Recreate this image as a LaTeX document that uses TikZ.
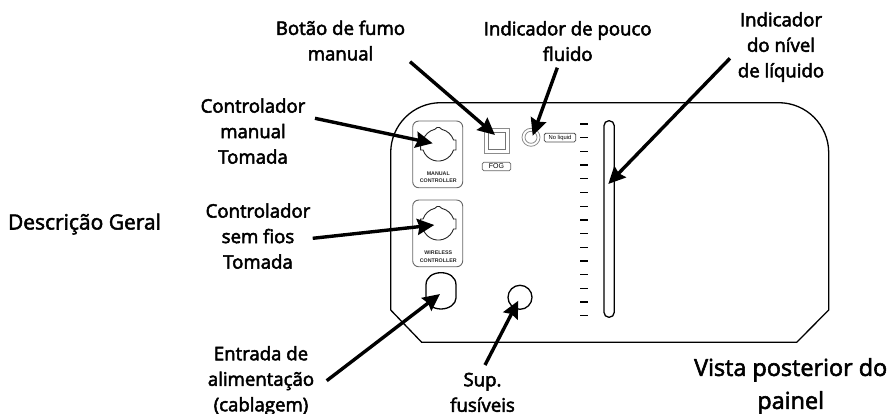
\documentclass[tikz,border=0pt]{standalone}
\usepackage{fontspec}
\setmainfont{Open Sans}
\newfontfamily\lblface[FakeBold=2.8]{Open Sans}
\newfontfamily\bigface[FakeBold=2.4]{Open Sans}
\newfontfamily\tinyface{Liberation Sans}
\usetikzlibrary{arrows.meta}
\tikzset{
  lbl/.style={inner sep=0pt,align=center,text=black,font=\lblface\fontsize{18.6}{25.5}\selectfont},
  biglbl/.style={inner sep=0pt,align=center,text=black,font=\bigface\fontsize{23.4}{33}\selectfont},
  ptr/.style={line width=3.4pt,-{Stealth[length=17pt,width=16pt,inset=2pt]},black},
  outline/.style={draw=black,line width=1.3pt,fill=none},
  greybox/.style={draw=black!60,line width=.9pt,rounded corners=6pt},
  tinytxt/.style={inner sep=0pt,align=center,font=\tinyface\bfseries\fontsize{5.3}{7.4}\selectfont,text=black!85},
  sockline/.style={draw=black!85,line width=.9pt},
  sock/.pic={\path[sockline] (3.6,15.6) arc[start angle=77,end angle=18,radius=16] -- (17.7,5) -- (17.7,-5) -- (15.2,-5) arc[start angle=-18,end angle=-162,radius=16] -- (-17.7,-5) -- (-17.7,5) -- (-15.2,5) arc[start angle=162,end angle=103,radius=16] -- (-1.2,17.5) -- (1.2,17.5) -- cycle;}
}
\begin{document}
\begin{tikzpicture}[x=1pt,y=1pt]
\useasboundingbox (0,0) rectangle (891,-414);
% panel
\draw[line width=1.3pt,black] (390.7,-152.7) arc[start angle=180,end angle=90,radius=50] -- (778.7,-102.7) arc[start angle=90,end angle=0,radius=50] -- (828.7,-310) -- (796.7,-342.3) -- (421.7,-342.3) -- (390.7,-310) -- cycle;
% sockets
\node[greybox,minimum width=50pt,minimum height=66.7pt,inner sep=0pt] (manualbox) at (437.7,-154.4) {};
\node[greybox,minimum width=50pt,minimum height=66.7pt,inner sep=0pt] (wirelessbox) at (437.7,-233.4) {};
\pic at (438.3,-145) {sock};
\pic at (438.3,-224) {sock};
\node[tinytxt] (manualtxt) at (438.3,-177.5) {MANUAL\\CONTROLLER};
\node[tinytxt] (wirelesstxt) at (438.3,-256.5) {WIRELESS\\CONTROLLER};
% power inlet
\draw[outline] (426,-285) .. controls (426,-277) and (433,-272.7) .. (441,-272.7) .. controls (449,-272.7) and (456,-277) .. (456,-285) -- (456,-298) .. controls (456,-304) and (449,-309) .. (441,-309) .. controls (433,-309) and (426,-304) .. (426,-298) -- cycle;
% fuse
\node[draw=black,line width=1.3pt,circle,minimum size=24pt,inner sep=0pt] (fuse) at (520,-297.3) {};
% FOG
\node[draw=black!45,line width=.9pt,minimum size=25pt,inner sep=0pt] (fogouter) at (496.7,-140.8) {};
\node[draw=black!55,line width=.9pt,minimum size=16.5pt,inner sep=0pt] (foginner) at (496.7,-140.8) {};
\node[draw=black!60,line width=.8pt,rounded corners=1.5pt,minimum width=28.4pt,minimum height=8.4pt,inner sep=0pt,font=\tinyface\fontsize{7}{8}\selectfont] (foglabel) at (496.5,-166.5) {FOG};
% LED
\node[draw=black!45,line width=.8pt,circle,minimum size=18pt,inner sep=0pt] (ledouter) at (531,-137.3) {};
\node[draw=black!45,line width=.8pt,circle,minimum size=12pt,inner sep=0pt] (ledinner) at (531,-137.3) {};
\node[draw=black!70,line width=.8pt,rounded corners=1.5pt,minimum width=31.4pt,minimum height=8.7pt,inner sep=0pt,font=\tinyface\fontsize{5.8}{7}\selectfont] (ledlabel) at (560,-137.6) {No liquid};
% ticks
\foreach \i in {0,...,14} \draw[line width=1.3pt,black] (580,{-124-13.7*\i}) -- (588.3,{-124-13.7*\i});
% slot
\node[draw=black,line width=1.3pt,rounded corners=5pt,minimum width=10.3pt,minimum height=196.6pt,inner sep=0pt] (slot) at (609.1,-219) {};
% labels
\node[biglbl,anchor=base] (general) at (84.5,-229.5) {\fontsize{21}{25}\selectfont Descrição Geral};
\node[lbl] (lbotao) at (340.5,-42.5) {\strut Botão de fumo\\\strut manual};
\node[lbl] (lpouco) at (567.7,-43) {\strut Indicador de pouco\\\strut fluido};
\node[lbl] (lnivel) at (781,-46.7) {\strut Indicador\\\strut do nível\\\strut de líquido};
\node[lbl] (lmanual) at (253,-133) {\strut Controlador\\\strut manual\\\strut Tomada};
\node[lbl] (lsemfios) at (258,-238) {\strut Controlador\\\strut sem fios\\\strut Tomada};
\node[lbl,anchor=north] (lentrada) at (261,-342.2) {\strut Entrada de\\\strut alimentação\\(cablagem)};
\node[lbl,anchor=north] (lsup) at (482.5,-368.2) {\strut Sup.\\fusíveis};
\node[biglbl,anchor=north] (lvista) at (790.7,-352.6) {\strut Vista posterior do\\painel};
% connector ends
\coordinate (sbotao) at (410,-61.7);   \coordinate (tbotao) at (495,-135);
\coordinate (spouco) at (557.3,-67.7); \coordinate (tpouco) at (532.7,-135.7);
\coordinate (snivel) at (730,-58.3);   \coordinate (tnivel) at (608.3,-184);
\coordinate (smanual) at (315,-118.3); \coordinate (tmanual) at (432.7,-143.3);
\coordinate (ssem) at (312.7,-238.3);  \coordinate (tsem) at (434.3,-225);
\coordinate (sent) at (326.7,-380.7);  \coordinate (tent) at (440,-294);
\coordinate (ssup) at (485,-365);      \coordinate (tsup) at (518.3,-300.7);
\draw[ptr] (sbotao) -- (tbotao);
\draw[ptr] (spouco) -- (tpouco);
\draw[ptr] (snivel) -- (tnivel);
\draw[ptr] (smanual) -- (tmanual);
\draw[ptr] (ssem) -- (tsem);
\draw[ptr] (sent) -- (tent);
\draw[ptr] (ssup) -- (tsup);
\end{tikzpicture}
\end{document}
